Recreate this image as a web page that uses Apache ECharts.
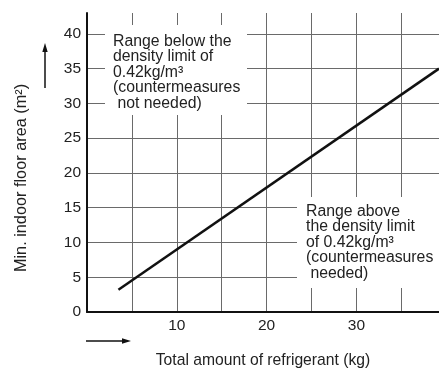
<!DOCTYPE html>
<html>
<head>
<meta charset="utf-8">
<script src="https://cdn.jsdelivr.net/npm/echarts@6/dist/echarts.min.js"></script>
<style>
html,body{margin:0;padding:0;background:#fff;}
#chart{width:439px;height:369px;}
</style>
</head>
<body>
<div id="chart"></div>
<script>
// Data
const refrigerantKg = [3.5, 39.2];
const minFloorArea = [3.2, 35];
const xTickLabels = [10, 20, 30];
const yTickLabels = [0, 5, 10, 15, 20, 25, 30, 35, 40];
const xTitle = 'Total amount of refrigerant (kg)';
const yTitle = 'Min. indoor floor area (m²)';
const noteBelow = 'Range below the\ndensity limit of\n0.42kg/m³\n(countermeasures\n not needed)';
const noteAbove = 'Range above\nthe density limit\nof 0.42kg/m³\n(countermeasures\n needed)';

const FONT = 'Liberation Sans, Arial, Helvetica, sans-serif';
const lineData = refrigerantKg.map((x, i) => [x, minFloorArea[i]]);

const chart = echarts.init(document.getElementById('chart'), null, {renderer: 'canvas'});
chart.setOption({
  animation: false,
  backgroundColor: '#fff',
  grid: {left: 87, right: 0, top: 13, bottom: 57, containLabel: false, outerBoundsMode: 'none'},
  xAxis: {
    type: 'value', min: 0, max: 39.2, interval: 5,
    axisLine: {show: true, onZero: false, lineStyle: {color: '#111', width: 2}},
    axisTick: {show: false},
    axisLabel: {
      margin: 6, color: '#222', fontFamily: FONT, fontSize: 15.5,
      showMaxLabel: false,
      formatter: v => xTickLabels.includes(v) ? String(v) : ''
    },
    splitLine: {show: true, showMinLine: false, showMaxLine: false, lineStyle: {color: '#6a6a6a', width: 1}},
    name: xTitle, nameLocation: 'middle', nameGap: 41,
    nameTextStyle: {color: '#222', fontFamily: FONT, fontSize: 15.7}
  },
  yAxis: {
    type: 'value', min: 0, max: 43, interval: 5,
    axisLine: {show: true, onZero: false, lineStyle: {color: '#111', width: 2}},
    axisTick: {show: false},
    axisLabel: {
      margin: 6, color: '#222', fontFamily: FONT, fontSize: 15.5,
      showMaxLabel: false,
      formatter: v => yTickLabels.includes(v) ? String(v) : ''
    },
    splitLine: {show: true, showMinLine: false, showMaxLine: false, lineStyle: {color: '#6a6a6a', width: 1}}
  },
  series: [{
    type: 'line', data: lineData, showSymbol: false, symbol: 'none',
    lineStyle: {color: '#111', width: 2.5}, z: 3
  }],
  graphic: [
    {type: 'rect', shape: {x: 105, y: 25, width: 142, height: 90}, style: {fill: '#fff'}, z: 50},
    {type: 'text', x: 113, y: 34, z: 51,
     style: {text: noteBelow, font: '15.8px ' + FONT, fill: '#222', lineHeight: 15.4}},
    {type: 'rect', shape: {x: 297, y: 197, width: 142, height: 91}, style: {fill: '#fff'}, z: 50},
    {type: 'text', x: 306, y: 204, z: 51,
     style: {text: noteAbove, font: '15.8px ' + FONT, fill: '#222', lineHeight: 15.4}},
    {type: 'text', x: 22, y: 178, rotation: Math.PI / 2, z: 51,
     style: {text: yTitle, font: '16.3px ' + FONT, fill: '#222', align: 'center', verticalAlign: 'middle'}},
    // up arrow
    {type: 'line', shape: {x1: 45, y1: 88, x2: 45, y2: 50}, style: {stroke: '#111', lineWidth: 1.5}, z: 51},
    {type: 'polygon', shape: {points: [[45, 43], [42.3, 52], [47.7, 52]]}, style: {fill: '#111'}, z: 51},
    // right arrow
    {type: 'line', shape: {x1: 86, y1: 341, x2: 124, y2: 341}, style: {stroke: '#111', lineWidth: 1.5}, z: 51},
    {type: 'polygon', shape: {points: [[131, 341], [122, 338.3], [122, 343.7]]}, style: {fill: '#111'}, z: 51}
  ]
});
</script>
</body>
</html>
